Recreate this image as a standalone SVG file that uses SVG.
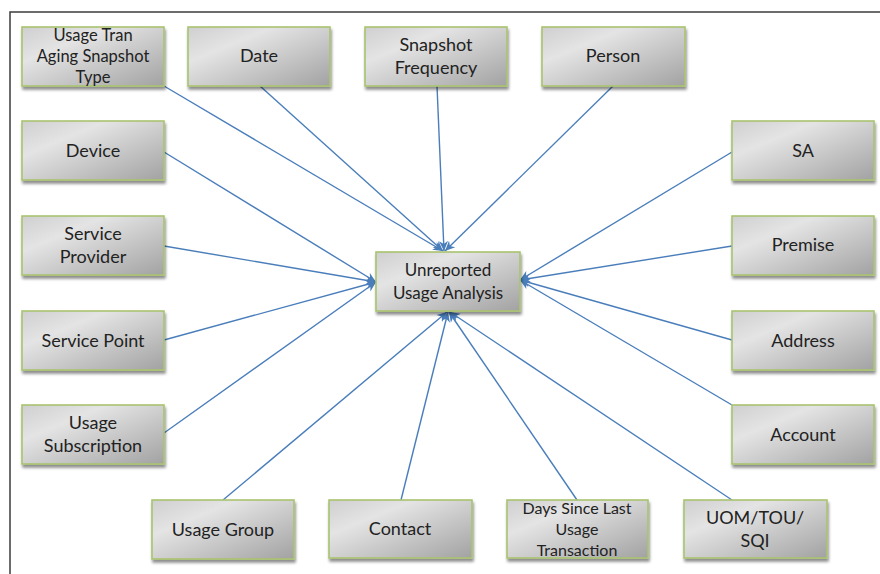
<svg xmlns="http://www.w3.org/2000/svg" width="880" height="574" viewBox="0 0 880 574">
<style>
.box{fill:url(#g);stroke:#a9c46e;stroke-width:1.6;filter:url(#sh)}
.t{font-family:Lato,"Liberation Sans",Arial,sans-serif;font-size:18px;fill:#222222;text-anchor:middle}
.s{font-size:16.5px}
.m{font-size:17px}
.d{font-size:16px}
.c{stroke:#4a7ebb;stroke-width:1.4;fill:none;marker-end:url(#ah)}
</style>
<defs>
<linearGradient id="g" x1="0" y1="0" x2="1" y2="1">
<stop offset="0" stop-color="#cfcfcf"/>
<stop offset="0.3" stop-color="#e4e4e4"/>
<stop offset="1" stop-color="#a2a2a2"/>
</linearGradient>
<filter id="sh" x="-10%" y="-10%" width="125%" height="135%">
<feGaussianBlur in="SourceAlpha" stdDeviation="1.6"/>
<feOffset dx="1" dy="3" result="b"/>
<feComponentTransfer><feFuncA type="linear" slope="0.45"/></feComponentTransfer>
<feMerge><feMergeNode/><feMergeNode in="SourceGraphic"/></feMerge>
</filter>
<marker id="ah" viewBox="0 0 10 10" refX="10" refY="5" markerWidth="10" markerHeight="10" markerUnits="userSpaceOnUse" orient="auto">
<path d="M0,0.5 L10,5 L0,9.5 L3,5 Z" fill="#4a7ebb"/>
</marker>
</defs>
<rect width="880" height="574" fill="#ffffff"/>
<path d="M10,574 V12 H880" fill="none" stroke="#3c3c3c" stroke-width="1.5"/>

<g id="connectors">
<line class="c" x1="164" y1="86" x2="443" y2="251"/>
<line class="c" x1="260" y1="86" x2="443" y2="251"/>
<line class="c" x1="437" y1="86" x2="444" y2="251"/>
<line class="c" x1="613" y1="86" x2="445" y2="251"/>
<line class="c" x1="164" y1="152" x2="376" y2="282"/>
<line class="c" x1="164" y1="246" x2="376" y2="282"/>
<line class="c" x1="164" y1="340" x2="376" y2="282"/>
<line class="c" x1="164" y1="433" x2="376" y2="282"/>
<line class="c" x1="223" y1="500" x2="447" y2="312"/>
<line class="c" x1="401" y1="500" x2="448" y2="312"/>
<line class="c" x1="577" y1="500" x2="449" y2="312"/>
<line class="c" x1="732" y1="500" x2="450" y2="312"/>
<line class="c" x1="732" y1="152" x2="520" y2="280"/>
<line class="c" x1="732" y1="246" x2="520" y2="280"/>
<line class="c" x1="732" y1="340" x2="520" y2="280"/>
<line class="c" x1="732" y1="405" x2="520" y2="280"/>
</g>

<g id="center"><rect class="box" x="376" y="252" width="144" height="59"/>
<text class="t m" x="448" y="276">Unreported</text><text class="t m" x="448" y="299">Usage Analysis</text></g>

<g id="usage-tran"><rect class="box" x="22" y="27" width="142" height="59"/>
<text class="t s" x="93" y="41">Usage Tran</text><text class="t s" x="93" y="62">Aging Snapshot</text><text class="t s" x="93" y="83">Type</text></g>
<g id="date"><rect class="box" x="188" y="27" width="142" height="59"/>
<text class="t" x="259" y="62">Date</text></g>
<g id="snapshot-frequency"><rect class="box" x="365" y="27" width="142" height="59"/>
<text class="t" x="436" y="51">Snapshot</text><text class="t" x="436" y="74">Frequency</text></g>
<g id="person"><rect class="box" x="542" y="27" width="143" height="59"/>
<text class="t" x="613" y="62">Person</text></g>

<g id="device"><rect class="box" x="22" y="121" width="142" height="59"/>
<text class="t" x="93" y="157">Device</text></g>
<g id="service-provider"><rect class="box" x="22" y="216" width="142" height="59"/>
<text class="t" x="93" y="240">Service</text><text class="t" x="93" y="263">Provider</text></g>
<g id="service-point"><rect class="box" x="22" y="311" width="142" height="59"/>
<text class="t" x="93" y="347">Service Point</text></g>
<g id="usage-subscription"><rect class="box" x="22" y="405" width="142" height="59"/>
<text class="t" x="93" y="429">Usage</text><text class="t" x="93" y="452">Subscription</text></g>

<g id="usage-group"><rect class="box" x="152" y="500" width="142" height="59"/>
<text class="t" x="223" y="536">Usage Group</text></g>
<g id="contact"><rect class="box" x="329" y="500" width="143" height="58"/>
<text class="t" x="400" y="535">Contact</text></g>
<g id="days-since"><rect class="box" x="507" y="500" width="141" height="58"/>
<text class="t d" x="577" y="514">Days Since Last</text><text class="t d" x="577" y="535">Usage</text><text class="t d" x="577" y="556">Transaction</text></g>
<g id="uom"><rect class="box" x="684" y="500" width="143" height="58"/>
<text class="t" x="755" y="524">UOM/TOU/</text><text class="t" x="755" y="547">SQI</text></g>

<g id="sa"><rect class="box" x="732" y="121" width="142" height="59"/>
<text class="t" x="803" y="157">SA</text></g>
<g id="premise"><rect class="box" x="732" y="216" width="142" height="59"/>
<text class="t" x="803" y="251">Premise</text></g>
<g id="address"><rect class="box" x="732" y="311" width="142" height="59"/>
<text class="t" x="803" y="347">Address</text></g>
<g id="account"><rect class="box" x="732" y="405" width="142" height="59"/>
<text class="t" x="803" y="441">Account</text></g>
</svg>
